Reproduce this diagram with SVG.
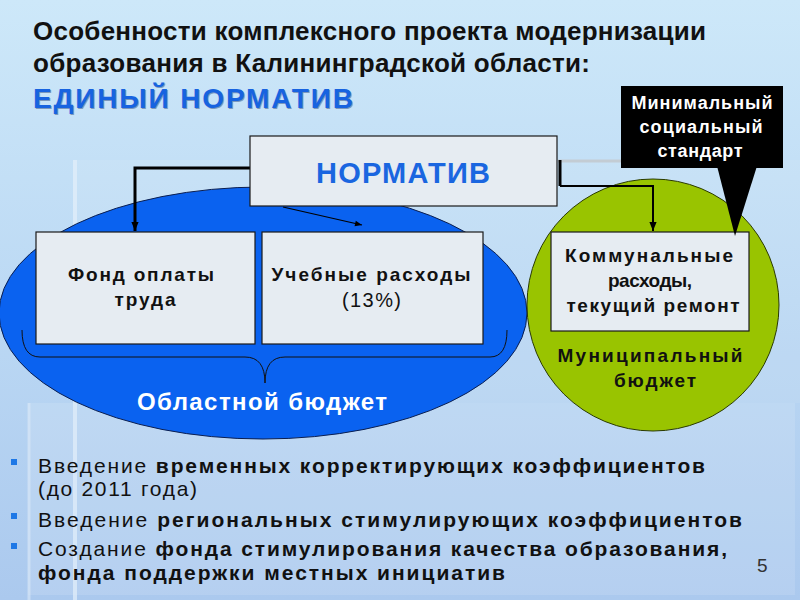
<svg xmlns="http://www.w3.org/2000/svg" width="800" height="600" viewBox="0 0 800 600">
<defs>
<linearGradient id="bg" x1="0" y1="0" x2="0" y2="1">
<stop offset="0" stop-color="#cde8f9"/>
<stop offset="0.5" stop-color="#bcd9f4"/>
<stop offset="1" stop-color="#abc9ee"/>
</linearGradient>
<marker id="ah" viewBox="0 0 10 10" refX="10" refY="5" markerWidth="9" markerHeight="9" markerUnits="userSpaceOnUse" orient="auto">
<path d="M0,1 L10,5 L0,9 Z" fill="#000"/>
</marker>
<marker id="ahs" viewBox="0 0 10 10" refX="10" refY="5" markerWidth="8" markerHeight="7" markerUnits="userSpaceOnUse" orient="auto">
<path d="M0,1 L10,5 L0,9 Z" fill="#000"/>
</marker>
</defs>
<style>
text{font-family:"Liberation Sans",Arial,sans-serif}
.title{font-size:26px;font-weight:bold;fill:#111}
.box{fill:#e6ecf2;stroke:#1a1a1a;stroke-width:1.2}
.bt{font-size:19px;font-weight:bold;fill:#111;text-anchor:middle}
.wt{font-size:18px;font-weight:bold;fill:#fff;text-anchor:middle}
.bul{font-size:21px;fill:#111}
.b{font-weight:bold}
.sq{fill:#1e78e6}
.con{fill:none;stroke:#000}
</style>
<rect x="0" y="0" width="800" height="600" fill="url(#bg)"/>
<!-- faint background panels -->
<rect x="73" y="160" width="727" height="243" fill="#ffffff" opacity="0.07"/>
<rect x="28" y="403" width="767" height="192" fill="#ffffff" opacity="0.12"/>
<line x1="75" y1="160" x2="75" y2="600" stroke="#e4f0fb" stroke-width="4" opacity="0.7"/>
<line x1="29" y1="403" x2="29" y2="600" stroke="#dbe9f8" stroke-width="3" opacity="0.6"/>
<line x1="558" y1="161" x2="622" y2="161" stroke="#c3ccd4" stroke-width="3"/>

<g id="title">
<text class="title" x="33" y="40" textLength="673">Особенности комплексного проекта модернизации</text>
<text class="title" x="33" y="72" textLength="557">образования в Калининградской области:</text>
<text x="34" y="109" font-size="28" font-weight="bold" fill="#0b2a66" opacity="0.4" textLength="320">ЕДИНЫЙ НОРМАТИВ</text>
<text x="33" y="108" font-size="28" font-weight="bold" fill="#1763e0" textLength="320">ЕДИНЫЙ НОРМАТИВ</text>
</g>

<g id="regional-budget">
<ellipse cx="263" cy="313" rx="264" ry="126" fill="#0a62f0" stroke="#0a1e50" stroke-width="1"/>
<path d="M22,330 Q22,357 40,357 L245,357 Q265,357 265,383 Q265,357 285,357 L490,357 Q507,357 507,330" fill="none" stroke="#111" stroke-width="1"/>
<text x="262" y="410" font-size="24" font-weight="bold" fill="#fff" text-anchor="middle" textLength="250">Областной бюджет</text>
</g>

<g id="municipal-budget">
<circle cx="653" cy="305" r="126" fill="#99c400" stroke="#2a3a00" stroke-width="1"/>
<text class="bt" x="650" y="362" font-size="21" textLength="185">Муниципальный</text>
<text class="bt" x="655" y="387" font-size="21" textLength="82">бюджет</text>
</g>

<g id="connectors">
<polyline class="con" points="250,168 135,168 135,231" stroke-width="3" marker-end="url(#ah)"/>
<line class="con" x1="283" y1="207" x2="362" y2="225" stroke-width="1.2" marker-end="url(#ahs)"/>
<polyline class="con" points="560,160 560,186" stroke-width="3"/>
<polyline class="con" points="560,186 653,186 653,231" stroke-width="2" marker-end="url(#ah)"/>
</g>

<g id="normativ">
<rect class="box" x="250" y="136" width="307" height="70"/>
<text x="403" y="183" font-size="29" font-weight="bold" fill="#1a66e0" text-anchor="middle" textLength="174">НОРМАТИВ</text>
</g>

<g id="fot">
<rect class="box" x="36" y="232" width="219" height="112"/>
<text class="bt" x="141" y="281" textLength="146">Фонд оплаты</text>
<text class="bt" x="145" y="306" textLength="61">труда</text>
</g>

<g id="study">
<rect class="box" x="262" y="232" width="221" height="112"/>
<text class="bt" x="371" y="281" textLength="199">Учебные расходы</text>
<text x="371.5" y="307" font-size="20" fill="#111" text-anchor="middle" textLength="59">(13%)</text>
</g>

<g id="communal">
<rect class="box" x="551" y="232" width="198" height="99"/>
<text class="bt" x="649" y="262" textLength="168">Коммунальные</text>
<text class="bt" x="650" y="287" textLength="84">расходы,</text>
<text class="bt" x="653" y="312" textLength="173">текущий ремонт</text>
</g>

<g id="min-standard">
<rect x="621" y="86" width="162" height="82" fill="#000"/>
<polygon points="717,166 757,166 735,236" fill="#000"/>
<text class="wt" x="702" y="109" textLength="141">Минимальный</text>
<text class="wt" x="701" y="133" textLength="123">социальный</text>
<text class="wt" x="700" y="157" textLength="85">стандарт</text>
</g>

<g id="bullets">
<rect class="sq" x="11" y="459" width="6" height="6"/>
<rect class="sq" x="11" y="513" width="6" height="6"/>
<rect class="sq" x="11" y="543" width="6" height="6"/>
<text class="bul" x="38" y="473" textLength="667">Введение <tspan class="b">временных корректирующих коэффициентов</tspan></text>
<text class="bul" x="38" y="496" textLength="159">(до 2011 года)</text>
<text class="bul" x="38" y="527" textLength="704">Введение <tspan class="b">региональных стимулирующих коэффициентов</tspan></text>
<text class="bul" x="38" y="556" textLength="689">Создание <tspan class="b">фонда стимулирования качества образования,</tspan></text>
<text class="bul b" x="38" y="580" textLength="467">фонда поддержки местных инициатив</text>
</g>

<text x="757" y="572" font-family="Liberation Serif,serif" font-size="19" fill="#333">5</text>
</svg>
